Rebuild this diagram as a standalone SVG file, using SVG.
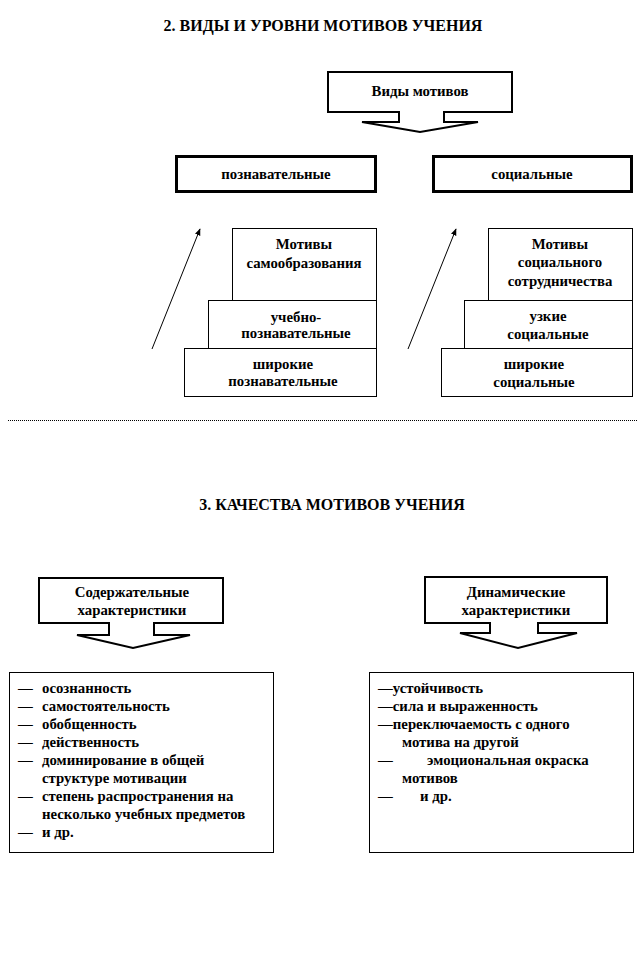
<svg xmlns="http://www.w3.org/2000/svg" width="641" height="972" viewBox="0 0 641 972">
<style>
text{font-family:"Liberation Serif","DejaVu Serif",serif;font-weight:bold;fill:#000}
.t{font-size:16px;text-anchor:middle}
.c{font-size:14.8px;text-anchor:middle}
.l{font-size:14.8px}
.thin{fill:#fff;stroke:#000;stroke-width:1}
.thick{fill:#fff;stroke:#000;stroke-width:3}
.call{fill:#fff;stroke:#000;stroke-width:2;stroke-linejoin:miter}
.ln{stroke:#000;stroke-width:1;fill:none}
</style>
<defs>
<marker id="ah" viewBox="0 0 10 10" refX="9" refY="5" markerWidth="7" markerHeight="7" orient="auto" markerUnits="userSpaceOnUse">
<path d="M0,1 L10,5 L0,9 z" fill="#000"/>
</marker>
</defs>
<rect width="641" height="972" fill="#fff"/>
<text class="t" x="323" y="31">2. ВИДЫ И УРОВНИ  МОТИВОВ УЧЕНИЯ</text>

<g id="vidy">
<path class="call" d="M328,72 H512 V112 H444 V122 H478 L420,132 L362,122 H399 V112 H328 Z"/>
<text class="c" x="420" y="96">Виды мотивов</text>
</g>
<g id="poznav">
<rect class="thick" x="176.5" y="156.5" width="199" height="35"/>
<text class="c" x="276" y="179">познавательные</text>
</g>
<g id="social">
<rect class="thick" x="433.5" y="156.5" width="198" height="35"/>
<text class="c" x="532" y="179">социальные</text>
</g>

<g id="samoobr">
<rect class="thin" x="232.5" y="228.5" width="144" height="72"/>
<text class="c" x="304" y="249">Мотивы</text>
<text class="c" x="304" y="268">самообразования</text>
</g>
<g id="uchebno">
<rect class="thin" x="208.5" y="300.5" width="168" height="48"/>
<text class="c" x="296" y="322">учебно-</text>
<text class="c" x="296" y="338">познавательные</text>
</g>
<g id="shir-pozn">
<rect class="thin" x="184.5" y="348.5" width="192" height="48"/>
<text class="c" x="283" y="369">широкие</text>
<text class="c" x="283" y="386">познавательные</text>
</g>

<g id="sotr">
<rect class="thin" x="488.5" y="228.5" width="144" height="72"/>
<text class="c" x="560" y="249">Мотивы</text>
<text class="c" x="560" y="267">социального</text>
<text class="c" x="560" y="286">сотрудничества</text>
</g>
<g id="uzkie">
<rect class="thin" x="464.5" y="300.5" width="168" height="48"/>
<text class="c" x="548" y="321">узкие</text>
<text class="c" x="548" y="339">социальные</text>
</g>
<g id="shir-soc">
<rect class="thin" x="441.5" y="348.5" width="191" height="48"/>
<text class="c" x="534" y="369">широкие</text>
<text class="c" x="534" y="387">социальные</text>
</g>

<g id="connectors">
<line class="ln" x1="152" y1="349" x2="200" y2="229" marker-end="url(#ah)"/>
<line class="ln" x1="408" y1="349" x2="456" y2="229" marker-end="url(#ah)"/>
</g>

<line x1="8" y1="420.5" x2="638" y2="420.5" stroke="#000" stroke-width="1" stroke-dasharray="1,1"/>

<text class="t" x="332" y="510">3. КАЧЕСТВА  МОТИВОВ УЧЕНИЯ</text>

<g id="soderzh">
<path class="call" d="M39,578 H223 V623 H154 V635 H190 L133,648 L77,635 H109 V623 H39 Z"/>
<text class="c" x="132" y="597">Содержательные</text>
<text class="c" x="132" y="615">характеристики</text>
</g>
<g id="dinam">
<path class="call" d="M425,577 H607 V623 H538 V633 H577 L518,648 L460,633 H490 V623 H425 Z"/>
<text class="c" x="516" y="597">Динамические</text>
<text class="c" x="516" y="615">характеристики</text>
</g>

<g id="list-left">
<rect class="thin" x="9.5" y="672.5" width="264" height="180"/>
<text class="l" x="18" y="693">—</text><text class="l" x="42" y="693">осознанность</text>
<text class="l" x="18" y="711">—</text><text class="l" x="42" y="711">самостоятельность</text>
<text class="l" x="18" y="729">—</text><text class="l" x="42" y="729">обобщенность</text>
<text class="l" x="18" y="747">—</text><text class="l" x="42" y="747">действенность</text>
<text class="l" x="18" y="765">—</text><text class="l" x="42" y="765">доминирование в общей</text>
<text class="l" x="42" y="783">структуре  мотивации</text>
<text class="l" x="18" y="801">—</text><text class="l" x="42" y="801">степень распространения на</text>
<text class="l" x="42" y="819">несколько  учебных предметов</text>
<text class="l" x="18" y="837">—</text><text class="l" x="42" y="837">и др.</text>
</g>

<g id="list-right">
<rect class="thin" x="369.5" y="672.5" width="264" height="180"/>
<text class="l" x="378" y="693">—устойчивость</text>
<text class="l" x="378" y="711">—сила и выраженность</text>
<text class="l" x="378" y="729">—переключаемость  с одного</text>
<text class="l" x="402" y="747">мотива на другой</text>
<text class="l" x="378" y="765">—</text><text class="l" x="427" y="765">эмоциональная окраска</text>
<text class="l" x="402" y="783">мотивов</text>
<text class="l" x="378" y="801">—</text><text class="l" x="420" y="801">и др.</text>
</g>
</svg>
